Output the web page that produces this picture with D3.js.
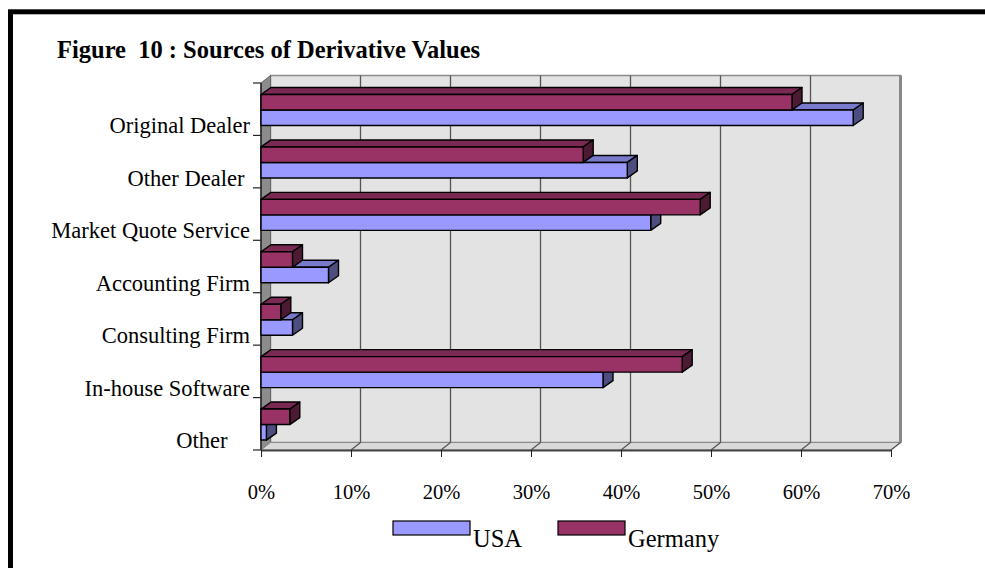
<!DOCTYPE html>
<html>
<head>
<meta charset="utf-8">
<title>Sources of Derivative Values</title>
<script src="https://d3js.org/d3.v7.min.js"></script>
<style>
    body { margin: 0; background: #fff; }
    svg text { font-family: "Liberation Serif", "Times New Roman", serif; fill: #000; white-space: pre; }
</style>
</head>
<body>
<div id="chart"></div>
<script>
    // Data (percent of respondents)
    const categories = ["Original Dealer", "Other Dealer ", "Market Quote Service", "Accounting Firm",
                        "Consulting Firm", "In-house Software", "Other    "];
    const seriesNames = ["USA", "Germany"];
    const usa     = [65.8, 40.7, 43.3, 7.5, 3.5, 38.0, 0.6];
    const germany = [59.0, 35.8, 48.8, 3.5, 2.2, 46.8, 3.2];
    const xTicks  = [0, 10, 20, 30, 40, 50, 60, 70];

    const serif = "'Liberation Serif', 'Times New Roman', serif";
    const width = 985, height = 568;
    const svg = d3.select("#chart").append("svg")
        .attr("width", width)
        .attr("height", height)
        .attr("font-family", serif);

    // Thick frame round the figure (runs off the right and bottom)
    svg.append("rect")
        .attr("x", 10.5).attr("y", 11.8)
        .attr("width", 1000).attr("height", 600)
        .attr("fill", "none").attr("stroke", "#000").attr("stroke-width", 5);

    svg.append("text")
        .attr("x", 57).attr("y", 58)
        .attr("font-size", 24.5).attr("font-weight", "bold")
        .text("Figure  10 : Sources of Derivative Values");

    const plotTop = 83, plotBottom = 450;
    const x = d3.scaleLinear().domain([0, 70]).range([261, 891]);
    const y = d3.scaleBand().domain(categories).range([plotTop, plotBottom]);

    const dx = 9.5, dy = 7.5;   // depth of walls
    const bdx = 10, bdy = 7;    // depth of bars

    // Back wall
    svg.append("rect")
        .attr("x", x(0) + dx).attr("y", plotTop - dy)
        .attr("width", x(70) - x(0)).attr("height", plotBottom - plotTop)
        .attr("fill", "#e3e3e3").attr("stroke", "#8a8a8a").attr("stroke-width", 1.5);
    svg.append("line")
        .attr("x1", x(70) + dx).attr("x2", x(70) + dx)
        .attr("y1", plotTop - dy).attr("y2", plotBottom - dy)
        .attr("stroke", "#888").attr("stroke-width", 3);

    // Side wall
    svg.append("path")
        .attr("d", `M${x(0)},${plotTop}L${x(0) + dx},${plotTop - dy}L${x(0) + dx},${plotBottom - dy}L${x(0)},${plotBottom}Z`)
        .attr("fill", "#8c8c8c").attr("stroke", "#666");

    // Floor
    svg.append("path")
        .attr("d", `M${x(0)},${plotBottom}L${x(0) + dx},${plotBottom - dy}L${x(70) + dx},${plotBottom - dy}L${x(70)},${plotBottom}Z`)
        .attr("fill", "#d9d9d9").attr("stroke", "#8a8a8a");

    // Grid lines on the back wall and across the floor
    svg.selectAll(".grid").data(xTicks.slice(1, -1)).join("line")
        .attr("class", "grid")
        .attr("x1", d => x(d) + dx).attr("x2", d => x(d) + dx)
        .attr("y1", plotTop - dy).attr("y2", plotBottom - dy)
        .attr("stroke", "#555").attr("stroke-width", 1.3);
    svg.selectAll(".floorline").data(xTicks.slice(1)).join("line")
        .attr("class", "floorline")
        .attr("x1", d => x(d)).attr("x2", d => x(d) + dx)
        .attr("y1", plotBottom).attr("y2", plotBottom - dy)
        .attr("stroke", "#555").attr("stroke-width", 1.2);

    // Value axis
    const xAxis = svg.append("g")
        .attr("transform", `translate(0,${plotBottom})`)
        .call(d3.axisBottom(x).tickValues(xTicks).tickFormat(d => d + "%")
            .tickSize(7).tickSizeOuter(0).tickPadding(27));
    xAxis.attr("font-family", serif).attr("font-size", 20.5);
    xAxis.select(".domain").attr("stroke", "#444").attr("stroke-width", 2);
    xAxis.selectAll(".tick line").attr("stroke", "#222");

    // Category axis
    svg.append("line")
        .attr("x1", x(0)).attr("x2", x(0))
        .attr("y1", plotTop).attr("y2", plotBottom)
        .attr("stroke", "#222").attr("stroke-width", 1.5);
    svg.selectAll(".ytick").data(categories.map(c => y(c)).concat([plotBottom])).join("line")
        .attr("class", "ytick")
        .attr("x1", x(0) - 8).attr("x2", x(0))
        .attr("y1", d => d).attr("y2", d => d)
        .attr("stroke", "#222").attr("stroke-width", 1.2);
    svg.selectAll(".ylabel").data(categories).join("text")
        .attr("class", "ylabel")
        .attr("x", 250)
        .attr("y", d => y(d) + y.bandwidth() - 2)
        .attr("text-anchor", "end")
        .attr("font-size", 22.5)
        .text(d => d);

    // 3D bars
    const colors = {
        USA:     { front: "#9999ff", top: "#7a7acc", side: "#4d4d80" },
        Germany: { front: "#993366", top: "#7a2952", side: "#4d1a33" }
    };
    const barH = 15.5, barOff = 11.5;
    const rows = [];
    categories.forEach((c, i) => {
        rows.push({ cat: c, name: "USA", value: usa[i], y0: y(c) + barOff + barH });
        rows.push({ cat: c, name: "Germany", value: germany[i], y0: y(c) + barOff });
    });

    const bars = svg.selectAll(".bar").data(rows).join("g").attr("class", "bar")
        .attr("stroke", "#000").attr("stroke-width", 1.4).attr("stroke-linejoin", "round");
    bars.append("path")
        .attr("fill", d => colors[d.name].top)
        .attr("d", d => {
            const x0 = x(0), x1 = x(d.value), t = d.y0;
            return `M${x0},${t}L${x0 + bdx},${t - bdy}L${x1 + bdx},${t - bdy}L${x1},${t}Z`;
        });
    bars.append("path")
        .attr("fill", d => colors[d.name].side)
        .attr("d", d => {
            const x1 = x(d.value), t = d.y0;
            return `M${x1},${t}L${x1 + bdx},${t - bdy}L${x1 + bdx},${t + barH - bdy}L${x1},${t + barH}Z`;
        });
    bars.append("rect")
        .attr("fill", d => colors[d.name].front)
        .attr("x", x(0))
        .attr("y", d => d.y0)
        .attr("width", d => x(d.value) - x(0))
        .attr("height", barH);

    // Legend
    const legend = [
        { name: "USA", x: 393, w: 77 },
        { name: "Germany", x: 558, w: 67 }
    ];
    const lg = svg.selectAll(".legend").data(legend).join("g").attr("class", "legend");
    lg.append("rect")
        .attr("x", d => d.x).attr("y", 521)
        .attr("width", d => d.w).attr("height", 14)
        .attr("fill", d => colors[d.name].front)
        .attr("stroke", "#000").attr("stroke-width", 1.2);
    lg.append("text")
        .attr("x", d => d.x + d.w + 3).attr("y", 547)
        .attr("font-size", 24.5)
        .text(d => d.name);
</script>
</body>
</html>
